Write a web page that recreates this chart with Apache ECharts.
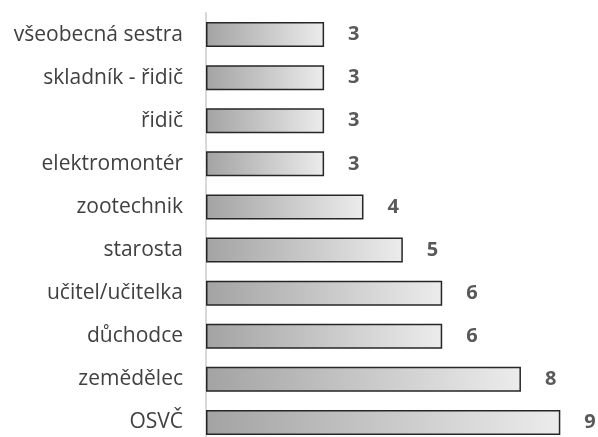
<!DOCTYPE html>
<html>
<head>
<meta charset="utf-8">
<script src="https://cdn.jsdelivr.net/npm/echarts@6/dist/echarts.min.js"></script>
<style>
  html, body { margin: 0; padding: 0; background: #fff; }
  #main { width: 598px; height: 437px; }
</style>
</head>
<body>
<div id="main"></div>
<script>
// bottom to top
var categories = ['OSVČ', 'zemědělec', 'důchodce', 'učitel/učitelka', 'starosta',
  'zootechnik', 'elektromontér', 'řidič', 'skladník - řidič', 'všeobecná sestra'];
var values = [9, 8, 6, 6, 5, 4, 3, 3, 3, 3];

var chart = echarts.init(document.getElementById('main'));
chart.setOption({
  animation: false,
  grid: { left: 206, top: 13, height: 431, width: 374, outerBoundsMode: 'none' },
  xAxis: {
    type: 'value', min: 0, max: 9.5,
    show: false
  },
  yAxis: {
    type: 'category',
    data: categories,
    axisLine: { show: true, lineStyle: { color: '#d9d9d9', width: 2 } },
    axisTick: { show: false },
    axisLabel: {
      margin: 23,
      color: '#404040',
      fontSize: 21,
      fontFamily: 'Open Sans'
    }
  },
  series: [{
    type: 'bar',
    data: values,
    barWidth: '58%',
    itemStyle: {
      color: new echarts.graphic.LinearGradient(0, 0, 1, 0, [
        { offset: 0, color: '#a3a3a3' },
        { offset: 1, color: '#ececec' }
      ]),
      borderColor: '#262626',
      borderWidth: 1.5
    },
    label: {
      show: true,
      position: 'right',
      distance: 24,
      color: '#595959',
      fontSize: 20,
      fontWeight: 'bold',
      fontFamily: 'Open Sans'
    }
  }]
});
</script>
</body>
</html>
